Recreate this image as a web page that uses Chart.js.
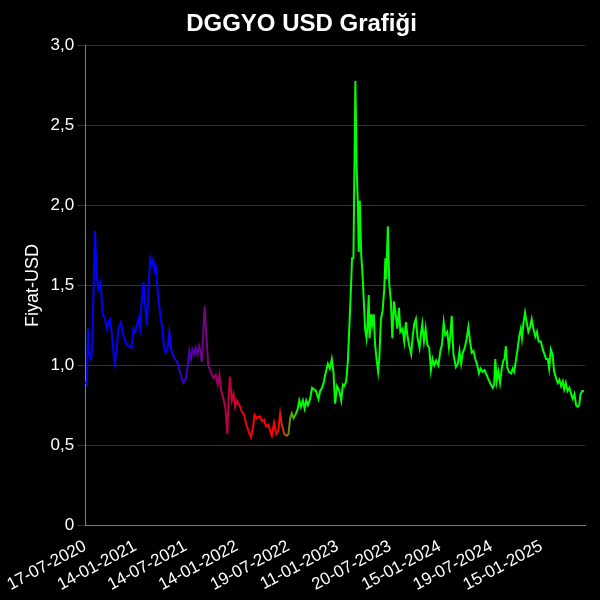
<!DOCTYPE html>
<html lang="tr">
<head>
<meta charset="utf-8">
<title>DGGYO USD Grafiği</title>
<script src="https://cdn.jsdelivr.net/npm/chart.js@4.4.1/dist/chart.umd.min.js"></script>
<style>
  html, body { margin: 0; padding: 0; background: #000; }
  #wrap { width: 600px; height: 600px; }
</style>
</head>
<body>
<div id="wrap"><canvas id="grafik"></canvas></div>
<script>
/* --------------- Veri --------------------- */
// 17-07-2020'den itibaren gün sayısı
const days = [
  0, 6, 10, 15, 21, 25, 35, 41, 47, 54, 58, 63, 71, 78, 83, 90, 95, 102, 107, 114,
  120, 129, 134, 140, 150, 158, 167, 174, 179, 186, 192, 198, 203, 210, 216, 222, 228, 234, 240, 245,
  250, 255, 260, 266, 272, 278, 284, 290, 297, 303, 309, 314, 323, 332, 339, 347, 354, 363, 369, 375,
  381, 386, 392, 398, 404, 410, 414, 420, 430, 436, 443, 452, 462, 470, 477, 483, 490, 498, 505, 512,
  516, 521, 528, 534, 540, 546, 556, 564, 572, 580, 588, 597, 604, 610, 618, 628, 637, 644, 651, 660,
  666, 672, 680, 688, 695, 702, 708, 717, 726, 732, 738, 744, 750, 757, 764, 771, 777, 784, 790, 796,
  802, 810, 817, 824, 831, 840, 846, 853, 860, 864, 874, 881, 888, 894, 900, 907, 915, 922, 928, 933,
  940, 946, 951, 957, 961, 966, 973, 978, 982, 985, 989, 994, 998, 1004, 1008, 1013, 1017, 1021, 1024, 1030,
  1034, 1039, 1044, 1050, 1055, 1059, 1065, 1071, 1077, 1081, 1084, 1090, 1095, 1101, 1106, 1112, 1118, 1124, 1130, 1135,
  1143, 1149, 1155, 1160, 1166, 1174, 1180, 1185, 1191, 1197, 1204, 1210, 1214, 1220, 1226, 1232, 1239, 1245, 1251, 1257,
  1264, 1272, 1279, 1285, 1291, 1297, 1304, 1310, 1314, 1320, 1326, 1335, 1342, 1348, 1354, 1360, 1367, 1374, 1380, 1386,
  1392, 1398, 1405, 1412, 1418, 1424, 1431, 1438, 1446, 1453, 1461, 1468, 1473, 1477, 1482, 1488, 1494, 1500, 1506, 1510,
  1515, 1520, 1526, 1534, 1540, 1545, 1551, 1557, 1563, 1569, 1573, 1578, 1584, 1591, 1596, 1602, 1608, 1614, 1621, 1627,
  1633, 1641, 1648, 1654, 1660, 1666, 1671, 1677, 1683, 1689, 1696, 1702, 1708, 1714, 1720, 1725, 1731, 1737, 1744, 1750,
  1756, 1762, 1768, 1774, 1779, 1784, 1790, 1796
];

// Fiyat (USD)
const prices = [
  0.90, 0.88, 1.23, 1.07, 1.04, 1.11, 1.84, 1.57, 1.48, 1.52, 1.44, 1.32, 1.29, 1.23, 1.27, 1.29, 1.21, 1.07, 1.01, 1.13,
  1.23, 1.27, 1.21, 1.17, 1.13, 1.12, 1.11, 1.23, 1.21, 1.25, 1.29, 1.23, 1.40, 1.52, 1.38, 1.25, 1.48, 1.67, 1.63, 1.66,
  1.59, 1.61, 1.48, 1.38, 1.29, 1.23, 1.11, 1.08, 1.11, 1.21, 1.11, 1.07, 1.04, 1.02, 0.97, 0.92, 0.89, 0.92, 1.00, 1.09,
  1.04, 1.10, 1.07, 1.11, 1.07, 1.12, 1.09, 1.02, 1.37, 1.19, 1.00, 0.96, 0.92, 0.94, 0.88, 0.94, 0.84, 0.79, 0.73, 0.57,
  0.78, 0.93, 0.78, 0.82, 0.74, 0.78, 0.75, 0.71, 0.69, 0.63, 0.59, 0.55, 0.61, 0.69, 0.67, 0.68, 0.65, 0.66, 0.62, 0.63,
  0.59, 0.56, 0.64, 0.57, 0.59, 0.70, 0.63, 0.57, 0.56, 0.57, 0.67, 0.70, 0.67, 0.69, 0.72, 0.78, 0.74, 0.78, 0.73, 0.78,
  0.75, 0.79, 0.86, 0.85, 0.84, 0.79, 0.84, 0.86, 0.90, 0.94, 1.01, 0.98, 1.04, 0.96, 0.76, 0.87, 0.84, 0.78, 0.88, 0.87,
  0.90, 1.03, 1.23, 1.48, 1.67, 1.67, 2.78, 2.21, 2.01, 1.71, 2.03, 1.69, 1.59, 1.38, 1.23, 1.17, 1.26, 1.44, 1.17, 1.32,
  1.26, 1.32, 1.13, 1.03, 0.96, 1.04, 1.29, 1.34, 1.48, 1.67, 1.54, 1.87, 1.51, 1.40, 1.17, 1.40, 1.32, 1.23, 1.36, 1.21,
  1.23, 1.15, 1.27, 1.19, 1.13, 1.07, 1.19, 1.26, 1.29, 1.17, 1.11, 1.21, 1.26, 1.15, 1.23, 1.13, 1.11, 0.97, 1.04, 1.00,
  1.03, 1.00, 1.09, 1.13, 1.27, 1.19, 1.21, 1.11, 1.17, 1.31, 1.07, 0.99, 1.01, 1.09, 1.01, 1.08, 1.11, 1.17, 1.24, 1.15,
  1.08, 1.09, 1.04, 1.00, 0.95, 0.98, 0.96, 0.97, 0.94, 0.91, 0.88, 0.86, 0.88, 1.04, 0.90, 0.96, 0.89, 0.98, 1.03, 1.04,
  1.12, 0.99, 0.96, 0.95, 0.98, 0.96, 1.03, 1.10, 1.18, 1.23, 1.17, 1.26, 1.33, 1.26, 1.21, 1.24, 1.29, 1.23, 1.18, 1.21,
  1.15, 1.15, 1.10, 1.07, 1.04, 1.04, 0.98, 1.10, 1.07, 0.96, 0.92, 0.89, 0.91, 0.87, 0.90, 0.85, 0.89, 0.84, 0.86, 0.82,
  0.79, 0.82, 0.75, 0.74, 0.75, 0.82, 0.84, 0.84
];

// Eksende gösterilen tarihler
const tickLabels = [
  "17-07-2020", "14-01-2021", "14-07-2021", "14-01-2022", "19-07-2022",
  "11-01-2023", "20-07-2023", "15-01-2024", "19-07-2024", "15-01-2025"
];
const startDate = "17-07-2020";
const lastDay = 1800;

/* --------------- Yardımcılar --------------------- */
const toUTC = (s) => {
  const [d, m, y] = s.split("-").map(Number);
  return Date.UTC(y, m - 1, d);
};
const dayOf = (s) => Math.round((toUTC(s) - toUTC(startDate)) / 86400000);
const tickDays = tickLabels.map(dayOf);

// Çizgi rengi: maviden kırmızıya, sonra yeşile geçiş (gün olarak)
const colorDays = [287, 594, 696, 767];
const colorStops = ["#0000ff", "#ff0000", "#ff0000", "#00ff00"];

let gradient = null, gradW = 0;
const lineColor = (context) => {
  const chart = context.chart;
  const { ctx, chartArea, scales } = chart;
  if (!chartArea || !scales.x) return "#0000ff";
  const w = chartArea.right - chartArea.left;
  if (!gradient || gradW !== w) {
    gradW = w;
    gradient = ctx.createLinearGradient(chartArea.left, 0, chartArea.right, 0);
    colorDays.forEach((d, i) => {
      const f = (scales.x.getPixelForValue(d) - chartArea.left) / w;
      gradient.addColorStop(Math.min(Math.max(f, 0), 1), colorStops[i]);
    });
  }
  return gradient;
};

const fmt = (v) => (v === 0 ? "0" : v.toFixed(1).replace(".", ","));

/* --------------- Grafik --------------------- */
Chart.defaults.font.family = "Arial, 'Liberation Sans', sans-serif";
Chart.defaults.color = "#ffffff";

new Chart(document.getElementById("grafik"), {
  type: "line",
  data: {
    datasets: [
      {
        label: "DGGYO USD",
        data: days.map((d, i) => ({ x: d, y: prices[i] })),
        borderColor: lineColor,
        borderWidth: 2,
        pointRadius: 0,
        tension: 0,
        fill: false,
      },
    ],
  },
  options: {
    responsive: true,
    maintainAspectRatio: false,
    animation: false,
    layout: { padding: { left: 18, right: 15, top: 0, bottom: 2 } },
    plugins: {
      legend: { display: false },
      tooltip: { enabled: false },
      title: {
        display: true,
        text: "DGGYO USD Grafiği",
        color: "#ffffff",
        font: { size: 24, weight: "bold" },
        padding: { top: 10, bottom: 7 },
      },
    },
    scales: {
      x: {
        type: "linear",
        min: 0,
        max: lastDay,
        afterBuildTicks: (axis) => {
          axis.ticks = tickDays.map((d) => ({ value: d }));
        },
        grid: { display: false },
        border: { display: true, color: "#4f86c0", width: 1 },
        ticks: {
          color: "#ffffff",
          font: { size: 17 },
          autoSkip: false,
          minRotation: 28,
          maxRotation: 28,
          callback: (value, index) => tickLabels[index],
        },
      },
      y: {
        min: 0,
        max: 3,
        grid: { color: "#333333", tickColor: "#333333" },
        border: { display: true, color: "#4f86c0", width: 1 },
        ticks: {
          stepSize: 0.5,
          color: "#ffffff",
          font: { size: 17 },
          callback: (value) => fmt(value),
        },
        title: {
          display: true,
          text: "Fiyat-USD",
          color: "#ffffff",
          font: { size: 18 },
        },
      },
    },
  },
});
</script>
</body>
</html>
